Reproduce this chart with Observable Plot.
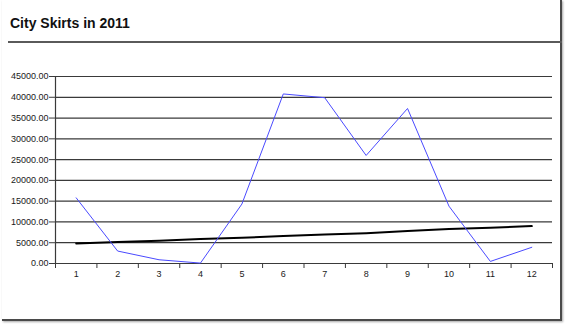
<!DOCTYPE html>
<html>
<head>
<meta charset="utf-8">
<script src="https://cdn.jsdelivr.net/npm/d3@7"></script>
<script src="https://cdn.jsdelivr.net/npm/@observablehq/plot@0.6"></script>
<style>
  html, body { margin: 0; padding: 0; background: #fff; }
  #wrap { position: relative; width: 566px; height: 325px; overflow: hidden; font-family: "Liberation Sans", Arial, sans-serif; }
  #frame { position: absolute; left: 2px; top: 0; width: 558px; height: 319px;
           border-right: 2px solid #4a4a4a; border-bottom: 2px solid #4a4a4a;
           box-shadow: 1px 1px 2px rgba(0,0,0,0.35); }
  #title { position: absolute; left: 10px; top: 15px; font-size: 14px; font-weight: bold; color: #111; }
  #rule { position: absolute; left: 8px; top: 41px; width: 554px; height: 0; border-top: 2px solid #5a5a5a; }
  #chart { position: absolute; left: 0; top: 41px; }
</style>
</head>
<body>
<div id="wrap">
  <div id="frame"></div>
  <div id="title">City Skirts in 2011</div>
  <div id="rule"></div>
  <div id="chart"></div>
</div>
<script>
const months = [1, 2, 3, 4, 5, 6, 7, 8, 9, 10, 11, 12];
const sales = [15800, 3000, 900, 100, 14300, 40800, 39900, 26000, 37300, 13800, 500, 3900];
const trend = [4800, 5200, 5500, 5900, 6200, 6600, 7000, 7300, 7800, 8300, 8600, 9000];
const yTicks = [0, 5000, 10000, 15000, 20000, 25000, 30000, 35000, 40000, 45000];
const xBounds = [0.5, 1.5, 2.5, 3.5, 4.5, 5.5, 6.5, 7.5, 8.5, 9.5, 10.5, 11.5, 12.5];

const salesData = months.map((m, i) => ({month: m, value: sales[i]}));
const trendData = months.map((m, i) => ({month: m, value: trend[i]}));

const chart = Plot.plot({
  width: 566,
  height: 250,
  marginLeft: 55,
  marginRight: 14,
  marginTop: 35,
  marginBottom: 28,
  style: {fontFamily: "'Liberation Sans', Arial, sans-serif", fontSize: "9px", color: "#1a1a1a", background: "transparent"},
  x: {type: "linear", domain: [0.5, 12.5]},
  y: {domain: [0, 45000]},
  marks: [
    Plot.ruleY(yTicks, {stroke: "#3a3a3a", strokeWidth: 1.2}),
    Plot.ruleX([0.5], {stroke: "#3a3a3a", strokeWidth: 1.2}),
    Plot.axisY({ticks: yTicks, tickSize: 6, tickPadding: 1, tickFormat: d3.format(".2f"), label: null, stroke: "#3a3a3a"}),
    Plot.axisX({ticks: xBounds, tickSize: 5, tickFormat: () => "", label: null, stroke: "#3a3a3a"}),
    Plot.axisX({ticks: months, tickSize: 0, tickPadding: 7, tickFormat: d => String(d), label: null}),
    Plot.line(trendData, {x: "month", y: "value", stroke: "#000", strokeWidth: 2}),
    Plot.line(salesData, {x: "month", y: "value", stroke: "#4a4aff", strokeWidth: 1})
  ]
});
document.getElementById("chart").appendChild(chart);
</script>
</body>
</html>
